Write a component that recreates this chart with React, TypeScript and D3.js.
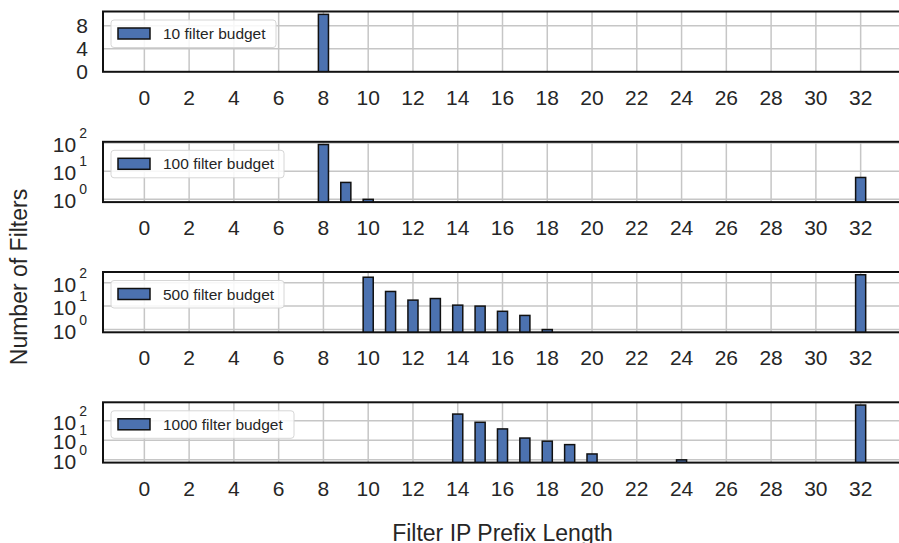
import React from "react";
import * as d3 from "d3";

// Prefix lengths on the x axis (one bar slot per length)
const prefixLengths = [
  0, 1, 2, 3, 4, 5, 6, 7, 8, 9, 10, 11, 12, 13, 14, 15, 16,
  17, 18, 19, 20, 21, 22, 23, 24, 25, 26, 27, 28, 29, 30, 31, 32,
];

// Number of filters per prefix length, one array per budget
const filters10 = [
  0, 0, 0, 0, 0, 0, 0, 0, 10, 0, 0, 0, 0, 0, 0, 0, 0,
  0, 0, 0, 0, 0, 0, 0, 0, 0, 0, 0, 0, 0, 0, 0, 0,
];
const filters100 = [
  0, 0, 0, 0, 0, 0, 0, 0, 89, 4, 1, 0, 0, 0, 0, 0, 0,
  0, 0, 0, 0, 0, 0, 0, 0, 0, 0, 0, 0, 0, 0, 0, 6,
];
const filters500 = [
  0, 0, 0, 0, 0, 0, 0, 0, 0, 0, 170, 42, 18, 21, 11, 10, 6,
  4, 1, 0, 0, 0, 0, 0, 0, 0, 0, 0, 0, 0, 0, 0, 217,
];
const filters1000 = [
  0, 0, 0, 0, 0, 0, 0, 0, 0, 0, 0, 0, 0, 0, 218, 83, 38,
  13, 9, 6, 2, 0, 0, 0, 1, 0, 0, 0, 0, 0, 0, 0, 630,
];

const budgetNames = [
  "10 filter budget",
  "100 filter budget",
  "500 filter budget",
  "1000 filter budget",
];
const budgetSeries = [filters10, filters100, filters500, filters1000];
const budgetScales = ["linear", "log", "log", "log"];

const xTicks = [0, 2, 4, 6, 8, 10, 12, 14, 16, 18, 20, 22, 24, 26, 28, 30, 32];
const linearTicks = [0, 4, 8];
const logTicks = [1, 10, 100];
const logTickExponents = ["0", "1", "2"];

const xAxisTitle = "Filter IP Prefix Length";
const yAxisTitle = "Number of Filters";

// Layout
const W = 899;
const H = 543;
const plotLeft = 103;
const plotRight = 902;
const panelTops = [11.5, 141.8, 272, 402.3];
const panelHeight = 60.3;
const barWidth = 0.45;

const FONT = "'Liberation Sans', Arial, Helvetica, sans-serif";
const BAR_FILL = "#4c72b0";
const GRID = "#c6c6c6";
const TEXT = "#262626";

// x domain with 5% margins around the bar extents
const xMin = d3.min(prefixLengths)! - barWidth / 2;
const xMax = d3.max(prefixLengths)! + barWidth / 2;
const xPad = (xMax - xMin) * 0.05;
const xScale = d3
  .scaleLinear()
  .domain([xMin - xPad, xMax + xPad])
  .range([plotLeft, plotRight]);

function makeYScale(values: number[], kind: string, top: number, bottom: number) {
  if (kind === "linear") {
    const mx = d3.max(values)!;
    return d3.scaleLinear().domain([0, mx * 1.05]).range([bottom, top]);
  }
  const positive = values.filter((v) => v > 0);
  const lmax = Math.log10(d3.max(positive)!);
  const lmin = Math.log10(d3.min(positive)!);
  const pad = (lmax - lmin) * 0.05;
  return d3
    .scaleLog()
    .domain([Math.pow(10, lmin - pad), Math.pow(10, lmax + pad)])
    .range([bottom, top]);
}

function Panel({ idx }: { idx: number }) {
  const top = panelTops[idx];
  const bottom = top + panelHeight;
  const values = budgetSeries[idx];
  const kind = budgetScales[idx];
  const y: any = makeYScale(values, kind, top, bottom);
  const ticks = kind === "linear" ? linearTicks : logTicks;
  const clipId = `clip-${idx}`;
  const legendW = [165, 173, 173, 183][idx];

  return (
    <g>
      <defs>
        <clipPath id={clipId}>
          <rect x={plotLeft} y={top} width={plotRight - plotLeft} height={panelHeight} />
        </clipPath>
      </defs>
      <rect x={plotLeft} y={top} width={plotRight - plotLeft} height={panelHeight} fill="#fff" />
      <g clipPath={`url(#${clipId})`}>
        {xTicks.map((t) => (
          <line
            key={`gx${t}`}
            x1={xScale(t)}
            x2={xScale(t)}
            y1={top}
            y2={bottom}
            stroke={GRID}
            strokeWidth={1.5}
          />
        ))}
        {ticks.map((t) => (
          <line
            key={`gy${t}`}
            x1={plotLeft}
            x2={plotRight}
            y1={y(t)}
            y2={y(t)}
            stroke={GRID}
            strokeWidth={1.5}
          />
        ))}
        {prefixLengths.map((p, i) =>
          values[i] > 0 ? (
            <rect
              key={`b${p}`}
              x={xScale(p - barWidth / 2)}
              y={y(values[i])}
              width={xScale(p + barWidth / 2) - xScale(p - barWidth / 2)}
              height={bottom + 2 - y(values[i])}
              fill={BAR_FILL}
              stroke="#111"
              strokeWidth={1.5}
            />
          ) : null
        )}
      </g>
      <rect
        x={plotLeft}
        y={top}
        width={plotRight - plotLeft}
        height={panelHeight}
        fill="none"
        stroke="#111"
        strokeWidth={2}
      />
      {/* y tick labels */}
      {ticks.map((t, k) =>
        kind === "linear" ? (
          <text
            key={`ty${t}`}
            x={88}
            y={y(t) + 7.5}
            textAnchor="end"
            fontSize={21}
            fill={TEXT}
            fontFamily={FONT}
          >
            {t}
          </text>
        ) : (
          <text
            key={`ty${t}`}
            x={87}
            y={y(t) + 9}
            textAnchor="end"
            fontSize={21}
            fill={TEXT}
            fontFamily={FONT}
          >
            <tspan>10</tspan>
            <tspan dx={3} dy={-14} fontSize={14}>
              {logTickExponents[k]}
            </tspan>
          </text>
        )
      )}
      {/* x tick labels */}
      {xTicks.map((t) => (
        <text
          key={`tx${t}`}
          x={xScale(t)}
          y={bottom + 33}
          textAnchor="middle"
          fontSize={21}
          fill={TEXT}
          fontFamily={FONT}
        >
          {t}
        </text>
      ))}
      {/* legend */}
      <g>
        <rect
          x={111}
          y={top + 8.5}
          width={legendW}
          height={27.5}
          rx={3}
          fill="#fff"
          fillOpacity={0.85}
          stroke="#d6d6d6"
          strokeWidth={1}
        />
        <rect
          x={118}
          y={top + 16.5}
          width={32}
          height={11}
          fill={BAR_FILL}
          stroke="#111"
          strokeWidth={1.5}
        />
        <text
          x={163}
          y={top + 27.5}
          fontSize={15.5}
          fill={TEXT}
          fontFamily={FONT}
        >
          {budgetNames[idx]}
        </text>
      </g>
    </g>
  );
}

export default function App() {
  return (
    <svg
      width={W}
      height={H}
      viewBox={`0 0 ${W} ${H}`}
      style={{ position: "absolute", left: 0, top: 0, background: "#fff" }}
    >
      <rect x={0} y={0} width={W} height={H} fill="#fff" />
      {budgetSeries.map((_, i) => (
        <Panel key={i} idx={i} />
      ))}
      <text
        x={(plotLeft + plotRight) / 2}
        y={541}
        textAnchor="middle"
        fontSize={23}
        fill={TEXT}
        fontFamily={FONT}
      >
        {xAxisTitle}
      </text>
      <text
        transform={`translate(27, 277) rotate(-90)`}
        textAnchor="middle"
        fontSize={23}
        fill={TEXT}
        fontFamily={FONT}
      >
        {yAxisTitle}
      </text>
    </svg>
  );
}
